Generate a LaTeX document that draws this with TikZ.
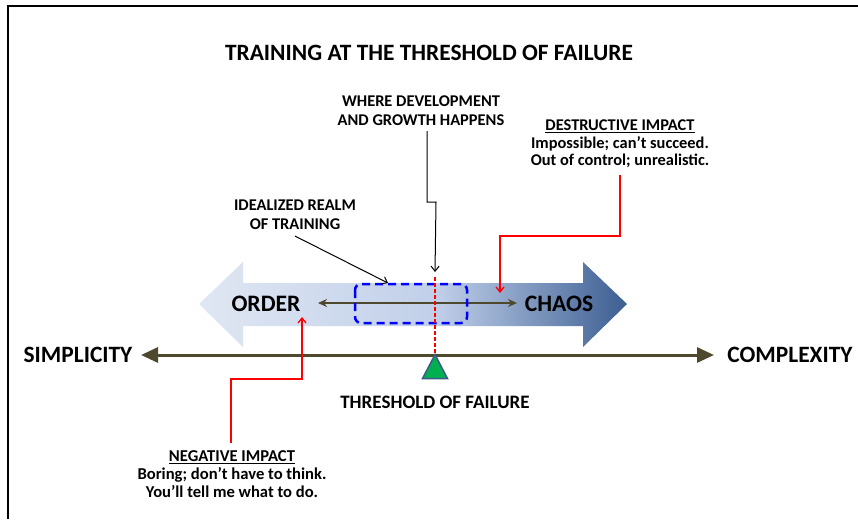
\documentclass[tikz,border=0pt]{standalone}
\usepackage{fontspec}
\setmainfont{Carlito}
\usetikzlibrary{arrows.meta,positioning,shapes.geometric}
\definecolor{axisolive}{RGB}{78,72,44}
\definecolor{arrlight}{RGB}{224,231,243}
\definecolor{arrmid}{RGB}{192,207,233}
\definecolor{arrdark}{RGB}{60,94,146}
\definecolor{trigreen}{RGB}{0,176,80}
\definecolor{triedge}{RGB}{60,90,140}
\pgfdeclarehorizontalshading{realmshade}{100bp}{color(0bp)=(arrlight); color(25bp)=(arrlight); color(53bp)=(arrmid); color(75bp)=(arrdark); color(100bp)=(arrdark)}

\begin{document}
\begin{tikzpicture}[x=1pt,y=-1pt,
		lbl/.style={font=\fontsize{16.4}{19}\selectfont\bfseries,align=center,inner sep=0pt},
		big/.style={font=\fontsize{23.6}{26}\selectfont\bfseries,inner sep=0pt},
		impact/.style={font=\fontsize{16.4}{17.5}\selectfont\bfseries,align=center,inner sep=0pt},
		redline/.style={red,line width=1.3pt},
		blkline/.style={black,line width=1pt}]
	\useasboundingbox (0,0) rectangle (858,519);
	
	%frame, only top and left
	\draw[line width=2pt] (858,6.5) -- (8,6.5) -- (8,519);
	
	\node[font=\fontsize{23.4}{26}\selectfont\bfseries,inner sep=0pt] (title) at (429,53) {TRAINING AT THE THRESHOLD OF FAILURE};
	
	%the big shaded double arrow
	\shade[shading=realmshade] (199,304) -- (243,262) -- (243,283) -- (583,283) -- (583,262) -- (627,304)
		-- (583,347) -- (583,326) -- (243,326) -- (243,347) -- cycle;
	\node[big] (order) at (266,304) {ORDER};
	\node[big] (chaos) at (559,304) {CHAOS};
	\draw[axisolive,line width=2pt,{Stealth[length=9pt,width=8pt]}-{Stealth[length=9pt,width=8pt]}] (318,303) -- (517,303);
	
	%idealized realm box
	\draw[blue,line width=2.5pt,dash pattern=on 8pt off 5pt,rounded corners=6pt] (355,284) rectangle (467,323);
	
	%main axis
	\draw[axisolive,line width=3pt,{Triangle[length=17pt,width=15pt]}-{Triangle[length=17pt,width=15pt]}] (141,355) -- (714,355);
	\node[big,font=\fontsize{23.4}{26}\selectfont\bfseries] (simp) at (78,355) {SIMPLICITY};
	\node[big,font=\fontsize{23.4}{26}\selectfont\bfseries] (compl) at (790,355) {COMPLEXITY};
	
	%threshold
	\draw[red,line width=1.2pt,dash pattern=on 4pt off 2pt] (435,277) -- (435,357);
	\node[draw=triedge,fill=trigreen,line width=1.5pt,inner sep=0pt,minimum width=25pt,minimum height=24pt,
		shape=isosceles triangle,shape border rotate=90,isosceles triangle stretches] (tri) at (435,371) {};
	\node[lbl,font=\fontsize{19}{22}\selectfont\bfseries] (thresh) at (435,402) {THRESHOLD OF FAILURE};
	
	%labels and pointers
	\node[lbl] (where) at (421,111) {WHERE DEVELOPMENT\\AND GROWTH HAPPENS};
	\coordinate (growth) at (435,272);
	\draw[blkline,-{Straight Barb[length=5pt,width=8pt]}] ([xshift=6pt]where.south) ++(0,5) |- (436,202) -- (growth);
	
	\node[lbl] (ideal) at (295,215) {IDEALIZED REALM\\OF TRAINING};
	\coordinate (realm) at (388,283);
	\draw[blkline,-{Straight Barb[length=5pt,width=8pt]}] ([yshift=-6pt]ideal.south) -- (realm);
	
	\node[impact] (destr) at (620,144) {\underline{DESTRUCTIVE IMPACT}\\Impossible; can’t succeed.\\Out of control; unrealistic.};
	\coordinate (toochaos) at (500,293);
	\draw[redline,-{Straight Barb[length=5pt,width=8pt]}] ([yshift=-7pt]destr.south) |- (500,236) -- (toochaos);
	
	\node[impact,font=\fontsize{16.6}{18}\selectfont\bfseries] (neg) at (232,474) {\underline{NEGATIVE IMPACT}\\Boring; don’t have to think.\\You’ll tell me what to do.};
	\coordinate (tooorder) at (302,317);
	\draw[redline,-{Straight Barb[length=5pt,width=8pt]}] ([xshift=-1pt,yshift=7pt]neg.north) |- (302,379) -- (tooorder);
\end{tikzpicture}
\end{document}
